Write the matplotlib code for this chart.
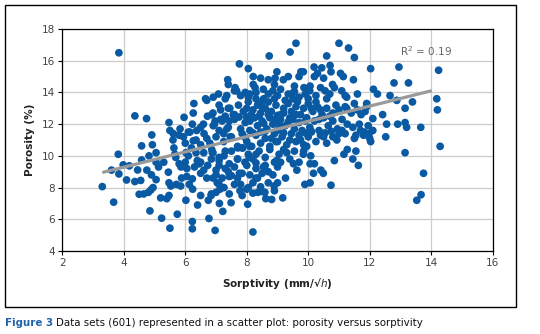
import matplotlib.pyplot as plt
from matplotlib.patches import Rectangle

# sparse points (sorptivity, porosity)
outer_pts = [
    (3.30, 8.06), (3.67, 7.08), (3.84, 16.5), (3.82, 10.1), (3.60, 9.1), (3.84, 8.86),
    (3.98, 9.43), (4.09, 8.48), (4.18, 9.37), (4.36, 12.52), (4.36, 8.38), (4.55, 8.45),
    (4.58, 10.63), (4.58, 9.74), (4.45, 9.11), (4.50, 7.58), (4.65, 7.6), (4.80, 7.7),
    (4.74, 12.35), (4.85, 6.53), (4.91, 11.32), (4.93, 10.7), (4.82, 10.0), (4.75, 9.1),
    (4.90, 8.8), (4.95, 8.0), (4.88, 7.85), (5.05, 10.2), (5.05, 9.6), (5.13, 9.3),
    (5.05, 8.5), (5.30, 9.6), (5.20, 7.35), (5.23, 6.07), (5.45, 8.97), (5.47, 12.1),
    (5.50, 11.6), (5.47, 8.3), (5.53, 8.1), (5.47, 7.5), (5.40, 7.3), (5.50, 5.44),
    (5.61, 11.4), (5.63, 10.5), (5.66, 10.1), (5.69, 9.9), (5.71, 8.2), (5.74, 6.32),
    (5.85, 8.1), (5.83, 11.7), (5.94, 11.2), (5.86, 9.3), (5.88, 8.6), (5.96, 12.43),
    (6.02, 10.2), (6.05, 9.2), (6.05, 8.7), (6.02, 7.2), (6.15, 11.5), (6.23, 12.0),
    (6.26, 10.95), (6.10, 10.0), (6.23, 8.55), (6.13, 8.2), (6.24, 7.9), (6.23, 5.86),
    (6.23, 5.4), (6.28, 13.3), (6.26, 12.7), (6.37, 11.6), (6.35, 10.2), (6.39, 9.7),
    (6.45, 9.5), (6.40, 6.9), (6.50, 9.6), (6.50, 7.5), (6.59, 12.0), (6.61, 11.4),
    (6.66, 13.6), (6.70, 13.5), (6.72, 12.5), (6.73, 9.4), (6.70, 8.6), (6.75, 7.2),
    (6.77, 6.05), (6.86, 12.6), (6.91, 11.9), (6.86, 10.4), (6.88, 10.2), (6.84, 7.5),
    (6.91, 13.7), (6.97, 12.2), (7.00, 11.2), (7.00, 8.8), (6.97, 5.3), (7.08, 13.9),
    (7.15, 12.3), (7.10, 9.9), (7.10, 9.4), (7.04, 8.3), (7.13, 7.9), (7.11, 7.0),
    (7.22, 6.5), (7.35, 11.7), (7.26, 10.0), (7.26, 8.0), (7.38, 14.8), (7.40, 14.5),
    (7.35, 13.8), (7.40, 13.0), (7.43, 12.2), (7.46, 11.2), (7.43, 9.5), (7.40, 9.0),
    (7.43, 8.7), (7.43, 7.6), (7.49, 7.05), (7.56, 12.6), (7.62, 14.3), (7.67, 14.1),
    (7.76, 15.8), (7.73, 13.2), (7.71, 10.5), (7.70, 9.8), (7.76, 8.9), (7.78, 7.8),
    (7.89, 12.8), (7.87, 10.5), (7.94, 9.6), (7.85, 7.5), (8.03, 6.95), (8.05, 15.5),
    (8.05, 13.7), (8.10, 12.2), (8.16, 10.6), (8.08, 9.9), (8.05, 8.0), (8.21, 15.0),
    (8.21, 14.5), (8.27, 14.3), (8.20, 7.65), (8.20, 5.2), (8.30, 8.6), (8.36, 7.7),
    (8.54, 14.2), (8.49, 13.1), (8.54, 9.3), (8.59, 7.7), (8.70, 14.8), (8.73, 16.3),
    (8.62, 7.3), (8.81, 7.25), (8.89, 8.1), (8.98, 15.3), (8.92, 14.9), (8.95, 10.9),
    (8.97, 9.7), (9.17, 7.35), (9.19, 14.8), (9.35, 15.0), (9.26, 8.6), (9.41, 16.55),
    (9.60, 17.1), (9.52, 14.0), (9.52, 9.5), (9.63, 9.1), (9.76, 15.3), (9.84, 15.3),
    (9.70, 15.0), (9.86, 14.3), (9.95, 10.6), (9.84, 10.1), (9.89, 8.2), (10.06, 8.3),
    (10.06, 9.5), (10.08, 10.0), (10.06, 14.4), (10.19, 15.6), (10.20, 9.5), (10.17, 8.9),
    (10.30, 15.2), (10.44, 15.55), (10.41, 9.1), (10.49, 8.9), (10.60, 16.3), (10.71, 15.7),
    (10.74, 15.3), (10.74, 8.15), (10.79, 14.5), (10.85, 9.7), (10.93, 11.0), (11.00, 17.1),
    (11.05, 15.2), (11.14, 15.0), (11.09, 14.1), (11.16, 10.1), (11.31, 16.8), (11.27, 10.4),
    (11.25, 13.0), (11.27, 12.0), (11.47, 14.8), (11.50, 16.2), (11.45, 9.8), (11.60, 13.9),
    (11.55, 11.3), (11.55, 10.3), (11.63, 9.4), (11.66, 12.0), (11.72, 12.6), (11.82, 11.5),
    (11.90, 13.3), (11.98, 11.4), (12.03, 15.5), (12.03, 10.9), (12.12, 14.2), (12.10, 12.35),
    (12.25, 13.9), (12.42, 12.6), (12.55, 12.0), (12.52, 11.2), (12.66, 13.8), (12.79, 14.6),
    (12.88, 13.5), (12.95, 15.6), (12.91, 12.0), (13.15, 13.0), (13.15, 12.1), (13.20, 11.8),
    (13.15, 10.2), (13.26, 14.6), (13.39, 13.4), (13.53, 7.2), (13.67, 7.55), (13.66, 11.8),
    (13.75, 8.9), (14.18, 13.6), (14.20, 12.9), (14.24, 15.4), (14.29, 10.6),
]

# dense middle of the cloud, estimated
core_pts = [
    (8.45, 14.9), (10.2, 15.0), (10.5, 14.9), (7.6, 14.1), (7.8, 13.8), (7.95, 14.0),
    (8.1, 13.9), (8.3, 14.0), (8.7, 13.9), (8.85, 14.1), (9.0, 13.8), (9.1, 14.2),
    (9.35, 13.9), (9.55, 14.05), (9.7, 13.7), (9.9, 13.9), (10.05, 14.1), (10.25, 13.8),
    (10.4, 14.3), (10.55, 14.1), (10.7, 13.9), (10.85, 14.3), (11.25, 13.7), (7.3, 13.6),
    (8.55, 13.6), (9.25, 13.5), (10.0, 13.6), (10.6, 13.6), (11.2, 13.8),
    (7.15, 12.9), (7.45, 13.0), (7.6, 12.6), (8.05, 13.4), (8.2, 12.9), (8.35, 13.2),
    (8.45, 12.7), (8.6, 13.0), (8.7, 13.4), (8.8, 12.8), (8.95, 13.2), (9.1, 12.6),
    (9.2, 13.0), (9.35, 13.3), (9.45, 12.8), (9.6, 13.1), (9.75, 12.6), (9.85, 13.0),
    (10.0, 13.3), (10.15, 12.8), (10.3, 13.1), (10.45, 12.6), (10.6, 13.0), (10.8, 12.7),
    (11.0, 12.9), (11.2, 13.1), (11.4, 12.7), (11.6, 12.9), (11.9, 13.1), (8.15, 12.6),
    (8.5, 13.4), (9.0, 12.55), (9.65, 13.4), (10.25, 13.4), (10.9, 13.2), (11.5, 13.3),
    (11.85, 12.8),
    (6.95, 12.0), (7.2, 12.2), (7.4, 11.8), (7.6, 12.3), (7.8, 11.7), (7.95, 12.1),
    (8.1, 11.6), (8.25, 12.4), (8.35, 11.9), (8.5, 12.2), (8.65, 11.7), (8.75, 12.4),
    (8.85, 12.0), (9.0, 11.6), (9.1, 12.3), (9.25, 11.9), (9.4, 12.4), (9.55, 11.7),
    (9.7, 12.1), (9.8, 11.6), (9.95, 12.4), (10.05, 11.8), (10.2, 12.2), (10.35, 11.6),
    (10.5, 12.4), (10.65, 11.9), (10.8, 12.2), (10.95, 11.7), (11.1, 12.3), (11.45, 11.8),
    (11.7, 11.6), (11.95, 11.9), (12.1, 11.6), (8.0, 12.45), (8.6, 11.55), (9.35, 12.15),
    (10.1, 11.55), (10.75, 11.55), (7.1, 11.6),
    (7.25, 10.9), (7.5, 11.2), (7.7, 10.6), (7.85, 11.4), (8.0, 10.9), (8.1, 10.6),
    (8.3, 11.3), (8.45, 10.8), (8.6, 11.1), (8.75, 10.6), (8.9, 11.4), (9.0, 10.9),
    (9.15, 11.2), (9.3, 10.7), (9.45, 11.4), (9.6, 10.9), (9.7, 11.3), (9.85, 10.7),
    (10.0, 11.2), (10.1, 11.5), (10.25, 10.9), (10.4, 11.3), (10.6, 10.8), (10.8, 11.2),
    (11.0, 11.4), (11.2, 11.4), (11.5, 11.1), (11.8, 11.3), (12.0, 11.1), (9.4, 11.0),
    (8.2, 11.45), (10.55, 11.45),
    (6.9, 10.2), (7.1, 9.7), (7.3, 10.3), (7.5, 10.3), (7.7, 9.8), (7.85, 10.5),
    (8.05, 10.1), (8.2, 9.8), (8.4, 10.3), (8.6, 9.9), (8.75, 10.4), (8.9, 9.6),
    (9.05, 10.1), (9.2, 10.4), (9.4, 9.8), (9.55, 10.3), (9.7, 9.6), (9.85, 10.3),
    (8.3, 9.55), (9.1, 9.6),
    (7.3, 9.2), (7.5, 8.75), (7.6, 9.3), (7.85, 8.9), (8.0, 9.4), (8.1, 8.8),
    (8.3, 9.2), (8.5, 8.9), (8.6, 9.4), (8.7, 9.0), (8.85, 8.8), (9.0, 9.3),
    (7.7, 8.6), (8.35, 8.6),
    (5.6, 11.0), (5.8, 11.3), (6.0, 10.8), (6.1, 11.5), (6.2, 10.5), (6.35, 11.0),
    (6.5, 10.7), (6.5, 11.8), (6.6, 10.2), (6.7, 11.1), (6.8, 10.8), (6.85, 9.8),
    (6.6, 9.1), (6.3, 9.3), (6.0, 9.6), (5.8, 9.5), (6.5, 8.9), (6.9, 8.6),
    (7.0, 9.1), (7.1, 8.2), (7.0, 7.7), (6.85, 7.6), (7.2, 8.6), (6.9, 12.7),
    (7.1, 13.2), (7.3, 12.5), (7.25, 11.4),
    (7.8, 8.2), (8.0, 7.9), (8.2, 8.3), (8.5, 7.75), (8.7, 8.3), (8.9, 7.8),
    (8.45, 8.05), (9.0, 8.3), (7.6, 8.2),
    # extra fill for the solid part of the blob
    (8.4, 12.5), (8.55, 12.05), (8.7, 12.6), (8.9, 12.3), (9.05, 12.0), (9.2, 12.7),
    (9.5, 12.3), (9.6, 12.6), (9.9, 12.2), (10.1, 13.0), (10.4, 12.9), (10.35, 12.3),
    (8.3, 13.6), (8.9, 13.6), (9.5, 13.6), (8.0, 13.0), (7.75, 12.45), (8.45, 11.5),
    (9.2, 11.45), (9.9, 11.45), (10.5, 11.2), (9.75, 11.0), (8.8, 11.1), (8.3, 10.1),
    (9.3, 10.2), (7.95, 11.15), (10.7, 12.5), (11.1, 11.6), (9.55, 14.4), (8.9, 14.5),
]

sorptivity = [p[0] for p in outer_pts + core_pts]
porosity = [p[1] for p in outer_pts + core_pts]

# trend line ends as drawn in the figure
trend_x = [3.3, 14.02]
trend_y = [8.95, 14.11]

fig = plt.figure(figsize=(5.4, 3.34), dpi=100)
ax = fig.add_axes([0.1154, 0.2485, 0.797, 0.6647])

ax.grid(True, color='#cccccc', lw=0.9)
ax.set_axisbelow(True)
ax.scatter(sorptivity, porosity, s=31, color='#0a5aa3', edgecolors='none', zorder=3)
ax.plot(trend_x, trend_y, color='#9a9a9a', lw=2.3, solid_capstyle='butt', zorder=4)
ax.text(12.98, 16.6, 'R$^2$ = 0.19', color='#666666', fontsize=7.5, va='center', zorder=5)

ax.set_xlim(2, 16)
ax.set_ylim(4, 18)
ax.set_xticks(range(2, 17, 2))
ax.set_yticks(range(4, 19, 2))
ax.tick_params(direction='out', length=3, width=0.8, labelsize=7.5, labelcolor='#444444', pad=2)
for sp in ax.spines.values():
    sp.set_linewidth(0.9)
    sp.set_color('black')

ax.set_xlabel('Sorptivity (mm/\u221a$h$)', fontsize=7.5, fontweight='bold', color='#222222', labelpad=6)
ax.set_ylabel('Porosity (%)', fontsize=7.5, fontweight='bold', color='#222222', labelpad=5)

fig.patches.append(Rectangle((5 / 540, 1 - 307 / 334), 511 / 540, 302 / 334,
                             transform=fig.transFigure, fill=False, ec='black', lw=1))

t1 = fig.text(5 / 540, 1 - 323 / 334, 'Figure 3', color='#1f63ad', fontsize=7.4,
              fontweight='bold', va='center')
fig.canvas.draw()
bb = t1.get_window_extent()
fig.text(bb.x1 / 540 + 0.005, 1 - 323 / 334,
         'Data sets (601) represented in a scatter plot: porosity versus sorptivity',
         color='#111111', fontsize=7.4, va='center')

fig.savefig('out.png', dpi=100)
